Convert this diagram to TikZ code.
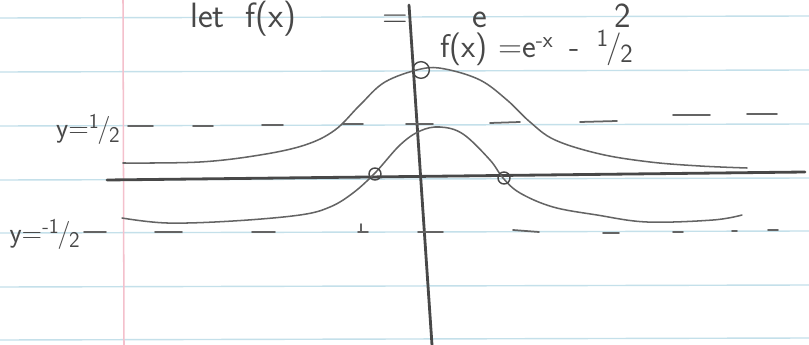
\documentclass[tikz,border=0pt]{standalone}
\usepackage{tikz}
\usepackage{xcolor}
\usepackage{graphicx}
\usetikzlibrary{positioning, calc}
\definecolor{ruleblue}{RGB}{196,224,234}
\definecolor{marginpink}{RGB}{244,192,204}
\definecolor{pencilgray}{RGB}{100,100,100}
\definecolor{axisgray}{RGB}{72,72,72}
\newcommand{\slashfrac}[2]{\raisebox{0.35em}{\scalebox{0.75}{#1}}\kern-0.05em/\kern-0.05em\raisebox{-0.15em}{\scalebox{0.8}{#2}}}

\begin{document}
\begin{tikzpicture}[
				x=0.03cm, y=-0.03cm,
				ruling/.style={draw=ruleblue, line width=1.2pt},
				margin/.style={draw=marginpink, line width=1.3pt},
				axis/.style={draw=axisgray, line width=2.4pt, line cap=round},
				curve/.style={draw=pencilgray, line width=1.3pt, line cap=round, smooth, tension=0.6},
				dashmark/.style={draw=pencilgray, line width=1.5pt, line cap=round},
				hole/.style={circle, draw=axisgray, line width=1.2pt, inner sep=0pt, minimum size=0.36cm},
				hand/.style={font=\sffamily\fontsize{24}{26}\selectfont, text=axisgray, inner sep=0pt},
				heading/.style={hand, anchor=base west, font=\sffamily\fontsize{30}{32}\selectfont}
			]

			% Paper
			\useasboundingbox (0,0) rectangle (809,345);
			\clip (0,0) rectangle (809,345);
			\fill[white] (0,0) rectangle (809,345);
			\foreach \ry in {18,72,126,180,233,287,340}
				\draw[ruling] (0,\ry) -- (809,\ry-2);
			\draw[margin] (123,0) -- (124,345);

			% Heading
			\node (let) [heading] at (190,28) {let};
			\node (fx) [heading] at (245,28) {f(x)};
			\node (eq) [heading] at (382,28) {=};
			\node (e) [heading] at (472,28) {e};
			\node (two) [heading] at (614,28) {2};

			% Axes
			\draw[axis] (107,180) -- (805,172);
			\draw[axis] (409,5) -- (432,345);

			% Curves
			\draw[curve] plot coordinates {(123,163) (200,162) (260,155) (305,145) (335,130) (360,105) (385,82) (421,69) (445,69) (480,80) (507,100) (530,122) (555,140) (600,154) (650,162) (700,166) (747,168)};
			\draw[curve] plot coordinates {(122,218) (167,223) (233,221) (300,215) (330,207) (353,193) (375,173) (400,145) (420,131) (440,127) (463,134) (490,160) (503,178) (520,193) (553,207) (597,215) (647,222) (713,220) (742,215)};

			% Marked points
			\node (peak) [hole, minimum size=0.5cm] at (421,70) {};
			\node (rootl) [hole] at (375,174) {};
			\node (rootr) [hole] at (504,178) {};

			% Dashed levels
			\foreach \xa/\xb/\ya/\yb in {128/153/126/126, 193/213/126/126, 262/283/125/125, 343/363/124/124, 406/433/124/124, 490/520/123/122, 580/617/122/121, 673/710/115/115, 747/777/114/114}
				\draw[dashmark] (\xa,\ya) -- (\xb,\yb);
			\foreach \xa/\xb/\ya/\yb in {84/106/232/232, 155/182/232/232, 252/275/232/232, 358/368/232/232, 418/443/232/232, 513/539/230/232, 603/619/233/233, 673/683/232/232, 732/737/231/231, 768/778/230/230}
				\draw[dashmark] (\xa,\ya) -- (\xb,\yb);
			\draw[dashmark] (361,224) -- (361,232);

			% Labels
			\node (half) [hand, anchor=base east] at (120,138) {y=\slashfrac{1}{2}};
			\node (neghalf) [hand, anchor=base east] at (80,243) {y=\slashfrac{-1}{2}};
			\node (curvelabel) [hand, anchor=base west, font=\sffamily\fontsize{28}{30}\selectfont] at (440,58) {f(x) =e\textsuperscript{-x}\enspace-\enspace\slashfrac{1}{2}};

		\end{tikzpicture}
\end{document}
